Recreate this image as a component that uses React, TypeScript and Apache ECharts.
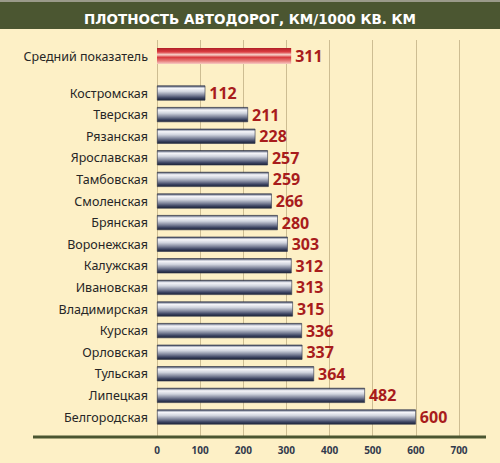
import React, { useEffect, useRef } from "react";
import * as echarts from "echarts";

const title = "ПЛОТНОСТЬ АВТОДОРОГ, КМ/1000 КВ. КМ";
const avgLabel = ["Средний показатель"];
const avgValue = [311];
const regions = [
  "Костромская",
  "Тверская",
  "Рязанская",
  "Ярославская",
  "Тамбовская",
  "Смоленская",
  "Брянская",
  "Воронежская",
  "Калужская",
  "Ивановская",
  "Владимирская",
  "Курская",
  "Орловская",
  "Тульская",
  "Липецкая",
  "Белгородская",
];
const values = [112, 211, 228, 257, 259, 266, 280, 303, 312, 313, 315, 336, 337, 364, 482, 600];
const xTicks = [0, 100, 200, 300, 400, 500, 600, 700];

const BG = "#fdf0c6";
const OLIVE = "#4b5631";

export default function App() {
  const ref = useRef<HTMLDivElement>(null);
  useEffect(() => {
    document.body.style.margin = "0";
    const chart = echarts.init(ref.current!, undefined, { renderer: "svg" });
    const navy = new echarts.graphic.LinearGradient(0, 0, 0, 1, [
      { offset: 0, color: "#2a3048" },
      { offset: 0.08, color: "#9aa0b0" },
      { offset: 0.18, color: "#f6f6fa" },
      { offset: 0.4, color: "#d0d4de" },
      { offset: 0.65, color: "#80869c" },
      { offset: 0.85, color: "#3a4260" },
      { offset: 1, color: "#1e2438" },
    ]);
    const red = new echarts.graphic.LinearGradient(0, 0, 0, 1, [
      { offset: 0, color: "#b01e26" },
      { offset: 0.25, color: "#dc3e42" },
      { offset: 0.42, color: "#f8d4cc" },
      { offset: 0.58, color: "#d8383c" },
      { offset: 0.8, color: "#e67a78" },
      { offset: 1, color: "#f8ccc4" },
    ]);
    const catLabel = {
      color: "#262626",
      fontFamily: "Noto Sans",
      fontSize: 12.5,
      margin: 9,
    };
    const valueLabel = {
      show: true,
      position: "right",
      distance: 4,
      color: "#a81c1c",
      fontFamily: "Open Sans",
      fontWeight: "bold",
      fontSize: 16,
    };
    const xMin = xTicks[0];
    const xMax = xTicks[xTicks.length - 1];
    const xInt = xTicks[1] - xTicks[0];
    chart.setOption({
      animation: false,
      backgroundColor: BG,
      title: {
        text: title,
        left: "center",
        top: 7,
        textStyle: {
          color: "#ffffff",
          fontFamily: "DejaVu Sans",
          fontWeight: "bold",
          fontSize: 13.5,
        },
      },
      graphic: [
        { type: "rect", shape: { x: 0, y: 0, width: 500, height: 2 }, style: { fill: "#9a9a8a" }, z: -1 },
        { type: "rect", shape: { x: 0, y: 2, width: 500, height: 27 }, style: { fill: OLIVE }, z: -1 },
        { type: "line", shape: { x1: 33, y1: 437, x2: 486, y2: 437 }, style: { stroke: OLIVE, lineWidth: 3 }, z: 10 },
      ],
      grid: [
        { left: 157, right: 41, top: 40, bottom: 26 },
        { left: 157, right: 41, top: 45, height: 22 },
        { left: 157, right: 41, top: 82.2, height: 345.6 },
      ],
      xAxis: [
        {
          gridIndex: 0,
          type: "value",
          min: xMin,
          max: xMax,
          interval: xInt,
          axisLine: { show: false },
          axisTick: { show: false },
          splitLine: { show: true, lineStyle: { color: "#cdbd92", width: 1 } },
          axisLabel: {
            margin: 8,
            color: "#323a4c",
            fontFamily: "Open Sans",
            fontWeight: "bold",
            fontSize: 10,
          },
        },
        { gridIndex: 1, type: "value", min: xMin, max: xMax, show: false },
        { gridIndex: 2, type: "value", min: xMin, max: xMax, show: false },
      ],
      yAxis: [
        { gridIndex: 0, type: "value", show: false },
        {
          gridIndex: 1,
          type: "category",
          data: avgLabel,
          axisLine: { show: false },
          axisTick: { show: false },
          axisLabel: catLabel,
        },
        {
          gridIndex: 2,
          type: "category",
          inverse: true,
          data: regions,
          axisLine: { show: false },
          axisTick: { show: false },
          axisLabel: catLabel,
        },
      ],
      series: [
        {
          type: "bar",
          xAxisIndex: 1,
          yAxisIndex: 1,
          data: avgValue,
          barWidth: 16,
          itemStyle: { color: red },
          label: valueLabel,
        },
        {
          type: "bar",
          xAxisIndex: 2,
          yAxisIndex: 2,
          data: values,
          barWidth: 15,
          itemStyle: { color: navy, borderColor: "#2a3048", borderWidth: 0.6 },
          label: valueLabel,
        },
      ],
    });
    return () => chart.dispose();
  }, []);
  return <div ref={ref} style={{ width: 500, height: 463 }} />;
}
